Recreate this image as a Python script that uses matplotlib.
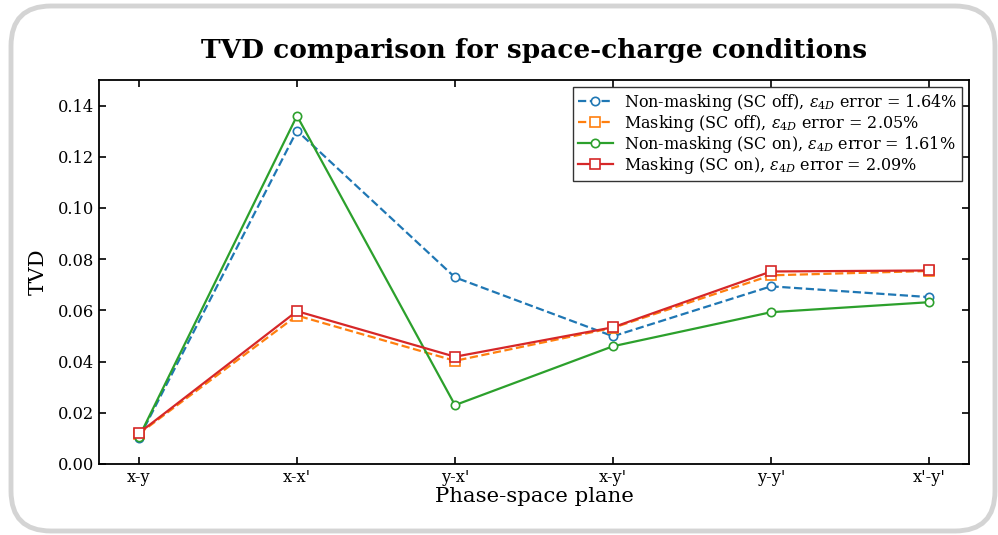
import matplotlib
matplotlib.use("Agg")
import matplotlib.pyplot as plt
from matplotlib.patches import FancyBboxPatch
from matplotlib.transforms import IdentityTransform

planes = ["x-y", "x-x'", "y-x'", "x-y'", "y-y'", "x'-y'"]

nonmask_sc_off = [0.0101, 0.1302, 0.0729, 0.0499, 0.0694, 0.0652]
mask_sc_off = [0.0118, 0.0580, 0.0403, 0.0532, 0.0737, 0.0754]
nonmask_sc_on = [0.0105, 0.1360, 0.0230, 0.0460, 0.0593, 0.0632]
mask_sc_on = [0.0121, 0.0597, 0.0419, 0.0534, 0.0752, 0.0756]

labels = [
    r"Non-masking (SC off), $\varepsilon_{4D}$ error = 1.64%",
    r"Masking (SC off), $\varepsilon_{4D}$ error = 2.05%",
    r"Non-masking (SC on), $\varepsilon_{4D}$ error = 1.61%",
    r"Masking (SC on), $\varepsilon_{4D}$ error = 2.09%",
]

plt.rcParams["font.family"] = "DejaVu Serif"
plt.rcParams["mathtext.fontset"] = "dejavuserif"

W, H, DPI = 998, 535, 100
fig = plt.figure(figsize=(W / DPI, H / DPI), dpi=DPI)

# rounded card outline around the figure
card = FancyBboxPatch((11, 4), 984, 525, boxstyle="round,pad=0,rounding_size=40",
                      transform=IdentityTransform(), facecolor="none",
                      edgecolor="#d4d4d4", linewidth=3.5, zorder=0)
fig.patches.append(card)

ax = fig.add_axes([99 / W, 1 - 464 / H, (969 - 99) / W, (464 - 80) / H])

x = list(range(len(planes)))
ax.plot(x, nonmask_sc_off, "--o", color="#1f77b4", lw=1.6, ms=6,
        mfc="white", mew=1.2, label=labels[0])
ax.plot(x, mask_sc_off, "--s", color="#ff7f0e", lw=1.6, ms=7.5,
        mfc="white", mew=1.2, label=labels[1])
ax.plot(x, nonmask_sc_on, "-o", color="#2ca02c", lw=1.6, ms=6,
        mfc="white", mew=1.2, label=labels[2])
ax.plot(x, mask_sc_on, "-s", color="#d62728", lw=1.6, ms=7.5,
        mfc="white", mew=1.2, label=labels[3])

ax.set_xticks(x)
ax.set_xticklabels(planes)
ax.set_xlim(-0.253, 5.253)
ax.set_ylim(0, 0.15)
ax.set_yticks([0.0, 0.02, 0.04, 0.06, 0.08, 0.10, 0.12, 0.14])
ax.yaxis.set_major_formatter(matplotlib.ticker.FormatStrFormatter("%.2f"))
ax.tick_params(direction="in", top=True, right=True, length=5, width=1.2,
               labelsize=11.7)
for s in ax.spines.values():
    s.set_linewidth(1.3)

ax.set_xlabel("Phase-space plane", fontsize=15.3, labelpad=1)
ax.set_ylabel("TVD", fontsize=15.3, labelpad=7)
ax.set_title("TVD comparison for space-charge conditions", fontsize=19,
             fontweight="bold", pad=16)

leg = ax.legend(loc="upper right", fontsize=11.5, fancybox=False,
                edgecolor="#333333", framealpha=1, borderaxespad=0.45,
                handlelength=2.2, handletextpad=0.7, labelspacing=0.0,
                borderpad=0.3)
leg.get_frame().set_linewidth(1.0)

fig.savefig("out.png", dpi=DPI)
